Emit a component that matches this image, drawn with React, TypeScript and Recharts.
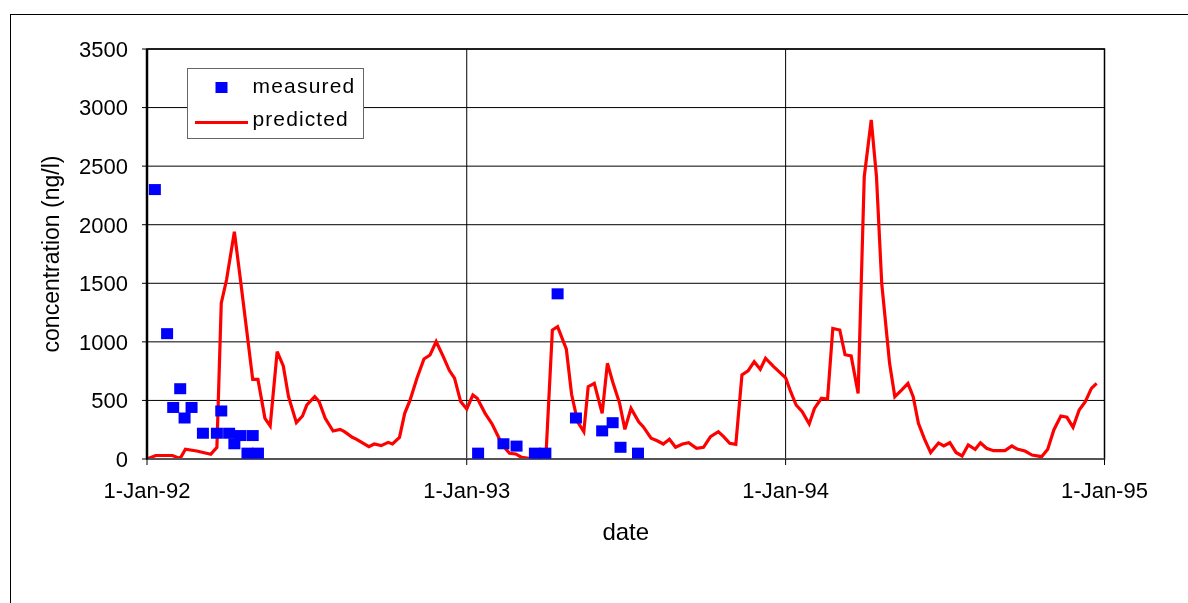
import React from 'react';
import {
  ComposedChart,
  Line,
  Scatter,
  XAxis,
  YAxis,
  CartesianGrid,
  Legend,
  ReferenceArea,
} from 'recharts';

// x values are days since 1-Jan-92
const predDays = [
  0, 10, 29, 38, 44, 57, 73, 80, 85, 91,
  100, 107, 115, 121, 127, 135, 141, 149, 156, 162,
  171, 178, 183, 192, 197, 204, 213, 221, 226, 235,
  240, 254, 260, 268, 276, 281, 289, 295, 301, 309,
  317, 324, 331, 339, 346, 352, 359, 366, 373, 378,
  387, 395, 403, 410, 415, 422, 429, 437, 450, 457,
  464, 470, 480, 486, 493, 500, 505, 512, 521, 527,
  533, 541, 547, 554, 563, 568, 577, 584, 591, 598,
  605, 613, 620, 629, 637, 645, 654, 660, 667, 674,
  681, 688, 695, 702, 708, 717, 731, 736, 743, 750,
  758, 764, 772, 779, 785, 793, 799, 806, 814, 821,
  829, 835, 841, 850, 856, 864, 871, 877, 883, 890,
  897, 906, 912, 919, 926, 933, 940, 948, 954, 961,
  969, 982, 990, 996, 1005, 1013, 1024, 1031, 1038, 1046,
  1053, 1060, 1067, 1074, 1081, 1087,
];

const predValues = [
  0, 30, 30, 5, 83, 68, 40, 100, 1330, 1528,
  1940, 1528, 1045, 680, 680, 347, 282, 916, 794, 532,
  310, 367, 461, 532, 490, 347, 239, 253, 233, 185,
  168, 105, 128, 114, 142, 128, 185, 390, 500, 690,
  854, 888, 1002, 876, 757, 690, 490, 427, 546, 518,
  390, 299, 177, 92, 49, 43, 14, 5, 5, 77,
  1101, 1130, 937, 553, 316, 233, 617, 646, 390, 817,
  660, 475, 253, 432, 316, 276, 177, 156, 128, 168,
  100, 128, 139, 92, 100, 191, 233, 191, 134, 125,
  717, 752, 831, 766, 860, 790, 693, 590, 461, 404,
  299, 432, 518, 512, 1115, 1101, 890, 880, 560, 2410,
  2894, 2410, 1500, 817, 532, 590, 646, 532, 305, 170,
  55, 137, 111, 139, 56, 26, 120, 83, 139, 92,
  71, 71, 111, 85, 68, 34, 20, 83, 248, 367,
  356, 270, 418, 490, 603, 646,
];

const measDays = [
  9, 23, 30, 38, 43, 51, 64, 80, 85, 94, 100, 107, 115, 121, 127,
  379, 408, 423, 444, 456, 470, 491, 521, 533, 542, 562,
];

const measValues = [
  2300, 1070, 440, 600, 350, 440, 220, 220, 410, 220, 130, 200, 50, 200, 50,
  50, 130, 110, 50, 50, 1410, 350, 240, 310, 100, 50,
];

const xTickDays = [0, 366, 731, 1096];
const xTickLabels = ['1-Jan-92', '1-Jan-93', '1-Jan-94', '1-Jan-95'];
const yTicks = [0, 500, 1000, 1500, 2000, 2500, 3000, 3500];

const predData = predDays.map((d, i) => ({ day: d, predicted: predValues[i] }));
const measData = measDays.map((d, i) => ({ day: d, measured: measValues[i] }));

const FONT = '"Liberation Sans", Arial, Helvetica, sans-serif';

const Square = (props: any) => {
  const { cx, cy } = props;
  if (cx == null || cy == null) return null;
  return <rect x={cx - 6} y={cy - 5.5} width={12} height={11} fill="#0000FF" />;
};

const YTitle = () => (
  <text
    x={50.5}
    y={246}
    transform="rotate(-90 50.5 246)"
    textAnchor="middle"
    fontSize={23}
    fontFamily={FONT}
    fill="#000"
  >
    concentration (ng/l)
  </text>
);

const XTitle = () => (
  <text x={617.75} y={532} textAnchor="middle" fontSize={24} fontFamily={FONT} fill="#000">
    date
  </text>
);

const LegendBox = () => (
  <div
    style={{
      width: 177,
      height: 71,
      boxSizing: 'border-box',
      border: '1px solid #666',
      background: '#fff',
    }}
  >
    <svg width={175} height={69} style={{ display: 'block' }}>
      <rect x={27.5} y={13} width={12} height={11} fill="#0000FF" />
      <line x1={7} x2={60} y1={53.5} y2={53.5} stroke="#FF0000" strokeWidth={3} />
      <text x={64.5} y={23.5} fontSize={21} fontFamily={FONT} fill="#000" letterSpacing={1.2}>
        measured
      </text>
      <text x={64.5} y={57} fontSize={21} fontFamily={FONT} fill="#000" letterSpacing={1.1}>
        predicted
      </text>
    </svg>
  </div>
);

export default function App() {
  return (
    <div style={{ position: 'relative', width: 1172, height: 587 }}>
      <div
        style={{
          position: 'fixed',
          left: 10,
          top: 14,
          width: 1400,
          height: 800,
          borderLeft: '1px solid #000',
          borderTop: '1px solid #000',
          pointerEvents: 'none',
        }}
      />
      <ComposedChart
        width={1172}
        height={587}
        margin={{ top: 41, right: 75.5, bottom: 56, left: 0 }}
        style={{ fontFamily: FONT }}
      >
        <CartesianGrid stroke="#000" strokeWidth={1} />
        <ReferenceArea
          x1={0}
          x2={1096}
          y1={0}
          y2={3500}
          fill="none"
          fillOpacity={0}
          stroke="#000"
          strokeWidth={1.5}
          ifOverflow="visible"
        />
        <XAxis
          type="number"
          dataKey="day"
          domain={[0, 1096]}
          ticks={xTickDays}
          interval={0}
          allowDataOverflow
          tickFormatter={(v: number) => xTickLabels[xTickDays.indexOf(v)] ?? ''}
          height={80}
          tickSize={6}
          tickMargin={17}
          axisLine={{ stroke: '#555', strokeWidth: 2 }}
          tickLine={{ stroke: '#000' }}
          tick={{ fill: '#000', fontSize: 22, fontFamily: FONT }}
          label={<XTitle />}
        />
        <YAxis
          type="number"
          domain={[0, 3500]}
          ticks={yTicks}
          interval={0}
          allowDataOverflow
          width={139}
          tickSize={5}
          tickMargin={14}
          axisLine={{ stroke: '#000', strokeWidth: 2.5 }}
          tickLine={{ stroke: '#000' }}
          tick={{ fill: '#000', fontSize: 22, fontFamily: FONT }}
          label={<YTitle />}
        />
        <Legend
          layout="vertical"
          align="center"
          verticalAlign="middle"
          content={<LegendBox />}
          wrapperStyle={{ position: 'absolute', left: 179, top: 60, width: 177, height: 71 }}
        />
        <Line
          data={predData}
          dataKey="predicted"
          name="predicted"
          type="linear"
          stroke="#FF0000"
          strokeWidth={3.2}
          dot={false}
          activeDot={false}
          isAnimationActive={false}
        />
        <Scatter
          data={measData}
          dataKey="measured"
          name="measured"
          fill="#0000FF"
          shape={<Square />}
          isAnimationActive={false}
        />
      </ComposedChart>
    </div>
  );
}
